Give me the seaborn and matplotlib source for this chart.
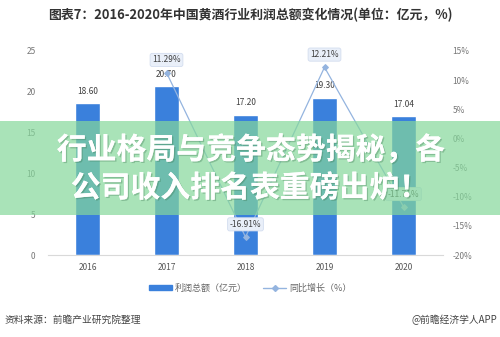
import numpy as np
import pandas as pd
import matplotlib
matplotlib.use("Agg")
import matplotlib.pyplot as plt
import matplotlib.patheffects as pe
import seaborn as sns
from matplotlib.patches import Rectangle
from matplotlib.lines import Line2D
from matplotlib.patches import Patch

years = ["2016", "2017", "2018", "2019", "2020"]
profit = [18.60, 20.70, 17.20, 19.30, 17.04]
growth = [np.nan, 11.29, -16.91, 12.21, -11.71]
left_ticks = [0, 5, 10, 15, 20, 25]
right_ticks = [-20, -15, -10, -5, 0, 5, 10, 15]

title = "图表7：2016-2020年中国黄酒行业利润总额变化情况(单位：亿元，%)"
legend_labels = ["利润总额（亿元）", "同比增长（%）"]
source_left = "资料来源：前瞻产业研究院整理"
source_right = "@前瞻经济学人APP"
banner_lines = ["行业格局与竞争态势揭秘，各", "公司收入排名表重磅出炉！"]

sns.set_theme(style="white")
plt.rcParams['font.family'] = ['Noto Sans CJK SC', 'DejaVu Sans']

BAR = "#3a80dc"
LINE = "#94b4df"

fig = plt.figure(figsize=(5.0, 3.37), dpi=100)
ax = fig.add_axes([0.096, 0.2433, 0.79, 0.6054])

df = pd.DataFrame({"year": years, "profit": profit})
sns.barplot(data=df, x="year", y="profit", color=BAR, width=0.32, ax=ax,
            saturation=1, zorder=2)
ax.set_ylim(0, 25)
ax.set_xlim(-0.5, 4.5)
ax.set_yticks(left_ticks)
ax.set_yticklabels([str(t) for t in left_ticks])
ax.set_xlabel("")
ax.set_ylabel("")
ax.tick_params(axis="y", length=0, pad=9, labelsize=6, labelcolor="#777777")
ax.tick_params(axis="x", length=0, pad=6, labelsize=6, labelcolor="#555555")
for s in ["top", "right", "left"]:
    ax.spines[s].set_visible(False)
ax.spines["bottom"].set_color("#d9d9d9")
ax.spines["bottom"].set_linewidth(0.8)

for i, v in enumerate(profit):
    ax.text(i, v + 0.9, f"{v:.2f}", ha="center", va="bottom", fontsize=6,
            color="#404040")

ax2 = ax.twinx()
sns.lineplot(x=np.arange(len(years)), y=growth, ax=ax2, color=LINE,
             linewidth=0.9, marker="D", markersize=3, markeredgecolor=LINE,
             zorder=3)
ax2.set_ylim(-20, 15)
ax2.set_yticks(right_ticks)
ax2.set_yticklabels([f"{t}%" for t in right_ticks])
ax2.tick_params(axis="y", length=0, pad=7, labelsize=6, labelcolor="#777777")
for s in ["top", "right", "left", "bottom"]:
    ax2.spines[s].set_visible(False)
ax2.set_xlim(-0.5, 4.5)

for i, g in enumerate(growth):
    if np.isnan(g):
        continue
    ax2.text(i, g + 1.4, f"{g:.2f}%", ha="center", va="bottom", fontsize=6,
             color="#404040", zorder=5,
             bbox=dict(boxstyle="round,pad=0.25", fc="#e9eff9", ec="#d3ddef",
                       lw=0.6))

fig.text(0.5, 0.955, title, ha="center", va="center", fontsize=9.3,
         fontweight="bold", color="#333333")

handles = [Patch(facecolor=BAR, edgecolor=BAR),
           Line2D([0], [0], color=LINE, lw=1.0, marker="D", markersize=3)]
leg = fig.legend(handles, legend_labels, loc="center", bbox_to_anchor=(0.5, 0.145),
                 ncol=2, frameon=False, fontsize=6.5, handlelength=2.6,
                 handleheight=0.5, columnspacing=1.8, handletextpad=0.3)
for t in leg.get_texts():
    t.set_color("#666666")

fig.text(0.01, 0.05, source_left, ha="left", va="center", fontsize=7,
         color="#444444")
fig.text(0.995, 0.05, source_right, ha="right", va="center", fontsize=7,
         color="#444444")

banner = Rectangle((0, 1 - 215 / 337), 1, (215 - 121) / 337,
                   transform=fig.transFigure, facecolor=(133/255, 216/255, 155/255),
                   alpha=0.7, edgecolor="none", zorder=10)
fig.patches.append(banner)
shadow = [pe.withSimplePatchShadow(offset=(1, -1), shadow_rgbFace="#3f7a55", alpha=0.35),
          pe.Normal()]
fig.text(0.502, 1 - 150 / 337, banner_lines[0], ha="center", va="center",
         fontsize=21.5, fontweight="bold", color="white", zorder=11,
         path_effects=shadow)
fig.text(0.5, 1 - 188 / 337, banner_lines[1], ha="center", va="center",
         fontsize=21.5, fontweight="bold", color="white", zorder=11,
         path_effects=shadow)

fig.savefig("out.png", dpi=100)
